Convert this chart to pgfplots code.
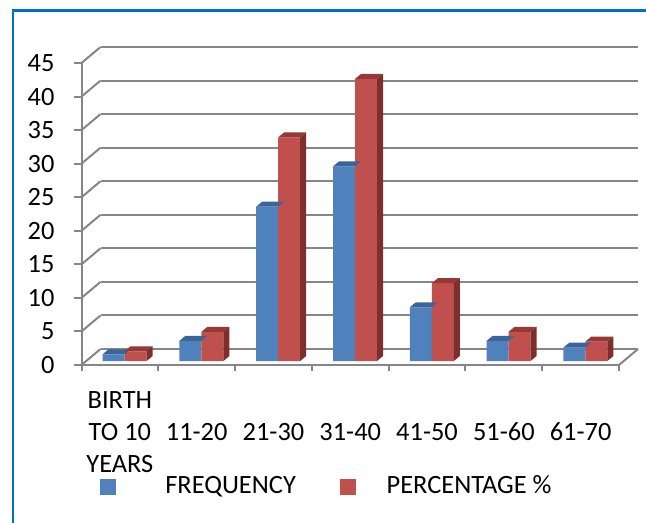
\documentclass[border=0pt]{standalone}
\usepackage{pgfplots}
\pgfplotsset{compat=1.18}
\usepackage{pgfplotstable}
\usepackage{fontspec}
\setmainfont{Carlito}
\definecolor{barblue}{RGB}{79,129,189}
\definecolor{bluetop}{RGB}{60,100,152}
\definecolor{redfront}{RGB}{192,80,77}
\definecolor{redtop}{RGB}{150,56,54}
\definecolor{redside}{RGB}{126,47,45}
\definecolor{gridgray}{RGB}{134,134,134}
\definecolor{frameblue}{RGB}{0,112,192}

\pgfplotstableread{
x freq pct
0 1 1.45
1 3 4.35
2 23 33.33
3 29 42.03
4 8 11.59
5 3 4.35
6 2 2.90
}\agedata

% 3-D faces of a bar, drawn at the top-right corner of its front face
\pgfdeclareplotmark{bartop}{%
  \pgfpathmoveto{\pgfpointorigin}%
  \pgfpathlineto{\pgfpoint{-11pt}{0pt}}%
  \pgfpathlineto{\pgfpoint{-8pt}{2.5pt}}%
  \pgfpathlineto{\pgfpoint{3pt}{2.5pt}}%
  \pgfpathclose
  \pgfusepathqfill}
\pgfdeclareplotmark{barside}{%
  \pgfpathmoveto{\pgfpointorigin}%
  \pgfpathlineto{\pgfpoint{3pt}{2.5pt}}%
  \pgfpathlineto{\pgfpoint{3pt}{2.5pt-\barval*3.35556pt}}%
  \pgfpathlineto{\pgfpoint{0pt}{-\barval*3.35556pt}}%
  \pgfpathclose
  \pgfusepathqfill}

\pgfplotsset{common/.style={scale only axis, width=268.75pt, height=151pt,
  xmin=-0.5, xmax=6.5, ymin=0, ymax=45, clip=false, anchor=south west}}

\begin{document}
\begin{tikzpicture}
\useasboundingbox (0,0) rectangle (323pt,-261.5pt);
\draw[frameblue, line width=1.2pt] (6.5pt,-261.5pt) -- (6.5pt,-5.25pt) -- (323pt,-5.25pt);

% back wall with gridlines
\begin{axis}[common, at={(50.25pt,-174.5pt)},
  axis line style={draw=none}, xtick=\empty, ytick={0,5,...,45}, yticklabels={},
  major tick length=0pt, ymajorgrids, grid style={gridgray, line width=1pt}]
\end{axis}

% front plane: axes, ticks, labels, legend
\begin{axis}[common, at={(40.75pt,-182.5pt)},
  axis lines*=left, axis line style={gridgray, line width=1pt},
  ytick={0,5,...,45},
  xtick={0,...,6},
  xticklabels={{BIRTH\\TO 10\\YEARS},11-20,21-30,31-40,41-50,51-60,61-70},
  minor xtick={-0.5,0.5,...,6.5},
  major x tick style={draw=none},
  tick style={gridgray, line width=1pt},
  tick align=outside, major tick length=4pt, minor tick length=3pt,
  /pgf/number format/assume math mode=true,
  tick label style={font=\fontsize{13.2}{16}\selectfont},
  yticklabel style={anchor=east, xshift=-6pt},
  xticklabel style={anchor=center, align=center, yshift=-29.5pt},
  legend columns=2,
  legend style={draw=none, fill=none, inner sep=0pt, outer sep=0pt,
    font=\fontsize{13.2}{16}\selectfont,
    nodes={inner sep=0pt},
    /tikz/every even column/.append style={column sep=22pt},
    at={(axis cs:-0.2651,-18.1)}, anchor=west},
]
\pgfplotsinvokeforeach{0,5,...,45}{\draw[gridgray, line width=1pt] (axis cs:-0.5,#1) -- ++(9.5pt,8pt);}
\draw[gridgray, line width=1pt] (axis cs:6.5,0) -- ++(9.5pt,8pt);
\addlegendimage{legend image code/.code={\fill[barblue] (0pt,-3.75pt) rectangle (7.5pt,3.75pt); \path (32.5pt,0pt);}}
\addlegendentry{FREQUENCY}
\addlegendimage{legend image code/.code={\fill[redfront] (0pt,-3.75pt) rectangle (7.5pt,3.75pt); \path (23pt,0pt);}}
\addlegendentry{PERCENTAGE \%}
\end{axis}

% bars, sitting slightly behind the front plane
\begin{axis}[common, at={(43.125pt,-180.5pt)}, hide axis]
\addplot[ybar, bar width=11pt, bar shift=-5.5pt, fill=barblue, draw=none] table[x=x, y=freq]{\agedata};
\addplot[only marks, mark=bartop, color=bluetop] table[x=x, y=freq]{\agedata};
\addplot[ybar, bar width=11pt, bar shift=5.5pt, fill=redfront, draw=none] table[x=x, y=pct]{\agedata};
\addplot[only marks, mark=bartop, color=redtop] table[x expr=\thisrow{x}+0.28651, y=pct]{\agedata};
\addplot[only marks, mark=barside, color=redside,
  visualization depends on={rawy \as \barval}]
  table[x expr=\thisrow{x}+0.28651, y=pct]{\agedata};
\end{axis}
\end{tikzpicture}
\end{document}
